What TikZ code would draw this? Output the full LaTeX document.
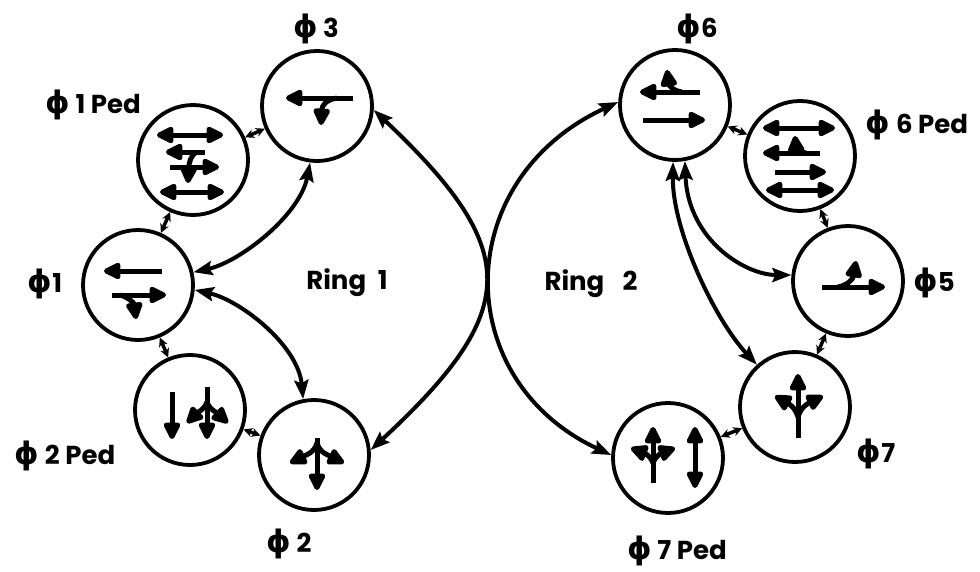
\documentclass[tikz,border=0pt]{standalone}
\usepackage{fontspec}
\setmainfont{Poppins}
\newfontfamily\dvfont{DejaVu Sans}
\usetikzlibrary{arrows.meta}
\newcommand{\phisym}{{\dvfont\bfseries\fontsize{31}{32}\selectfont ϕ}}
\begin{document}
\begin{tikzpicture}[x=1pt,y=-1pt,
  phase/.style={circle,draw,line width=3.8pt,minimum size=110pt,inner sep=0pt},
  lab/.style={font=\fontsize{26}{30}\selectfont\bfseries,inner sep=0pt},
  tipb/.tip={Triangle[length=20pt,width=18pt,round]},
  ic/.style={line width=5pt,-tipb},
  icd/.style={line width=5pt,tipb-tipb},
  big/.style={line width=4pt,{Stealth[length=19pt,width=14pt,inset=3pt]}-{Stealth[length=19pt,width=14pt,inset=3pt]}},
  sm/.style={line width=3.5pt,{Stealth[length=9pt,width=9pt]}-{Stealth[length=9pt,width=9pt]}},
]
\useasboundingbox (0,0) rectangle (980,571);

% phase circles
\node[phase] (p3) at (317,106) {};
\node[phase] (p1ped) at (193,160) {};
\node[phase] (p1) at (138,285) {};
\node[phase] (p2ped) at (190,410) {};
\node[phase] (p2) at (314,455) {};
\node[phase] (p6) at (675,105) {};
\node[phase] (p6ped) at (800,156) {};
\node[phase] (p5) at (848,281) {};
\node[phase] (p7) at (795,407) {};
\node[phase] (p7ped) at (668,458) {};

% labels
\node[lab] (l3) at (316,29) {\phisym\ 3};
\node[lab] (l1ped) at (93,105) {\phisym\ 1 Ped};
\node[lab] (l1) at (45,284) {\phisym 1};
\node[lab] (l2ped) at (65,456) {\phisym\ 2 Ped};
\node[lab] (l2) at (289,544) {\phisym\ 2};
\node[lab] (l6) at (697,29) {\phisym 6};
\node[lab] (l6ped) at (917,125) {\phisym\ 6 Ped};
\node[lab] (l5) at (934,283) {\phisym 5};
\node[lab] (l7) at (876,454) {\phisym 7};
\node[lab] (l7ped) at (677,551) {\phisym\ 7 Ped};
\node[lab] (r1) at (347,283) {Ring\hspace{0.45em}1};
\node[lab] (r2) at (591,284) {Ring\hspace{0.7em}2};

% icons
\begin{scope}[shift={(p3.center)}]
  \draw[ic] (36,-8) -- (-31,-8);
  \draw[ic] (20,-8) .. controls (8,-6) and (5,0) .. (4,19);
\end{scope}
\begin{scope}[shift={(p1.center)}]
  \draw[ic] (24,-14) -- (-34,-14);
  \draw[ic] (-26,10) -- (28,10);
  \draw[ic] (-18,10) .. controls (-10,12) and (-4,18) .. (-2,34);
\end{scope}
\begin{scope}[shift={(p1ped.center)}]
  \draw[icd] (-36,-25) -- (30,-25);
  \draw[ic] (12,-8) -- (-27,-8);
  \draw[ic] (-23,7) -- (26,7);
  \draw[ic] (3,-8) .. controls (-2,-4) and (-4,2) .. (-5,23);
  \draw[icd] (-33,32) -- (31,32);
\end{scope}
\begin{scope}[shift={(p2ped.center)}]
  \draw[ic] (-18,-18) -- (-18,29);
  \draw[ic] (17,-23) -- (17,29);
  \draw[ic] (17,-8) .. controls (14,0) and (8,2) .. (-3,13);
  \draw[ic] (17,-8) .. controls (20,0) and (26,2) .. (38,13);
\end{scope}
\begin{scope}[shift={(p2.center)}]
  \draw[ic] (3,-17) -- (3,35);
  \draw[ic] (3,-12) .. controls (0,-2) and (-8,0) .. (-24,8);
  \draw[ic] (3,-12) .. controls (6,-2) and (14,0) .. (30,8);
\end{scope}
\begin{scope}[shift={(p6.center)}]
  \draw[ic] (25,-13) -- (-35,-13);
  \draw[ic] (7,-13) .. controls (-2,-14) and (-6,-20) .. (-8,-35);
  \draw[ic] (-32,15) -- (30,15);
\end{scope}
\begin{scope}[shift={(p6ped.center)}]
  \draw[icd] (-37,-28) -- (35,-28);
  \draw[ic] (20,-3) -- (-37,-3);
  \draw[ic] (6,-3) .. controls (-1,-4) and (-4,-8) .. (-5,-20);
  \draw[ic] (-25,16) -- (26,16);
  \draw[icd] (-34,34) -- (34,34);
\end{scope}
\begin{scope}[shift={(p5.center)}]
  \draw[ic] (-26,6) -- (37,6);
  \draw[ic] (-10,6) .. controls (0,4) and (5,-2) .. (8,-20);
\end{scope}
\begin{scope}[shift={(p7.center)}]
  \draw[ic] (3,31) -- (3,-33);
  \draw[ic] (3,10) .. controls (0,0) and (-6,-3) .. (-20,-11);
  \draw[ic] (3,10) .. controls (6,0) and (12,-3) .. (28,-11);
\end{scope}
\begin{scope}[shift={(p7ped.center)}]
  \draw[ic] (-15,25) -- (-15,-31);
  \draw[ic] (-15,5) .. controls (-18,-3) and (-24,-5) .. (-37,-10);
  \draw[ic] (-15,5) .. controls (-12,-3) and (-6,-5) .. (7,-10);
  \draw[icd] (27,-31) -- (27,30);
\end{scope}

% short links between neighbouring phases
\draw[sm] (p1ped) -- (p3);
\draw[sm] (p1ped) -- (p1);
\draw[sm] (p1) -- (p2ped);
\draw[sm] (p2ped) -- (p2);
\draw[sm] (p6) -- (p6ped);
\draw[sm] (p6ped) -- (p5);
\draw[sm] (p5) -- (p7);
\draw[sm] (p7) -- (p7ped);

% ring connectors
\draw[big] (p3.-4) .. controls (522,250) and (522,310) .. (p2.5);
\draw[big] (p1.13) .. controls (240,262) and (300,215) .. (p3.263);
\draw[big] (p1.-5) .. controls (240,300) and (298,345) .. (p2.101);
\draw[big] (p6.177) .. controls (450,180) and (450,380) .. (p7ped.177);
\draw[big] (p6.-80) .. controls (688,240) and (745,275) .. (p5.174);
\draw[big] (p6.-92) .. controls (672,230) and (715,320) .. (p7.132);
\end{tikzpicture}
\end{document}
